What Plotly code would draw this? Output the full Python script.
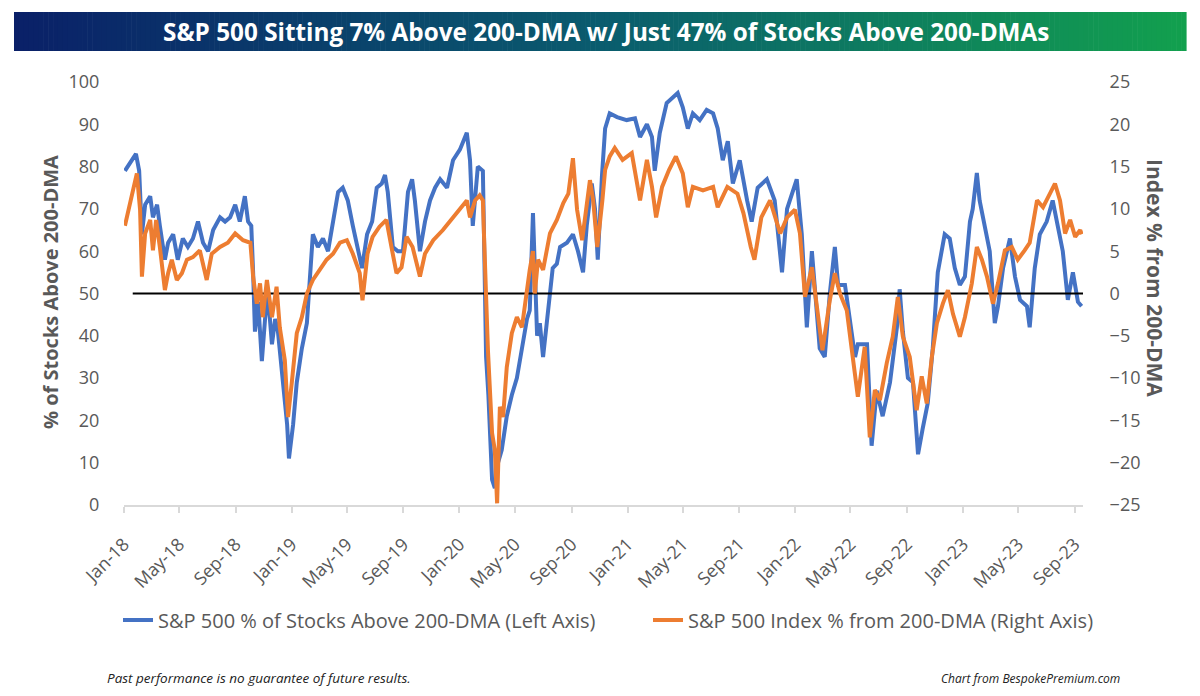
import plotly.graph_objects as go

# ---------------- data ----------------
breadth_dates = [
"2018-01-03","2018-01-14","2018-01-27","2018-02-03","2018-02-09","2018-02-16","2018-02-27","2018-03-05","2018-03-14","2018-03-20",
"2018-03-31","2018-04-07","2018-04-18","2018-04-28","2018-05-09","2018-05-20","2018-05-31","2018-06-11","2018-06-22","2018-07-03",
"2018-07-14","2018-07-29","2018-08-09","2018-08-20","2018-08-31","2018-09-10","2018-09-21","2018-09-28","2018-10-05","2018-10-09",
"2018-10-13","2018-10-20","2018-10-28","2018-11-04","2018-11-10","2018-11-19","2018-11-26","2018-12-02","2018-12-13","2018-12-22",
"2018-12-26","2019-01-04","2019-01-12","2019-01-23","2019-02-03","2019-02-10","2019-02-16","2019-02-27","2019-03-10","2019-03-21",
"2019-04-01","2019-04-12","2019-04-22","2019-05-03","2019-05-14","2019-05-25","2019-06-03","2019-06-14","2019-06-25","2019-07-05",
"2019-07-16","2019-07-23","2019-07-29","2019-08-09","2019-08-20","2019-08-31","2019-09-11","2019-09-20","2019-09-26","2019-10-07",
"2019-10-18","2019-10-29","2019-11-09","2019-11-20","2019-12-05","2019-12-18","2020-01-02","2020-01-17","2020-01-24","2020-01-30",
"2020-02-10","2020-02-21","2020-02-25","2020-02-28","2020-03-04","2020-03-12","2020-03-18","2020-03-25","2020-04-02","2020-04-13",
"2020-04-24","2020-05-05","2020-05-16","2020-05-27","2020-06-02","2020-06-09","2020-06-18","2020-06-24","2020-07-01","2020-07-12",
"2020-07-22","2020-07-31","2020-08-07","2020-08-22","2020-09-04","2020-09-15","2020-09-26","2020-10-04","2020-10-15","2020-10-22",
"2020-10-28","2020-11-06","2020-11-13","2020-11-23","2020-12-09","2020-12-30","2021-01-17","2021-01-28","2021-02-12","2021-02-23",
"2021-03-01","2021-03-12","2021-03-27","2021-04-20","2021-05-01","2021-05-12","2021-05-23","2021-06-07","2021-06-22","2021-07-06",
"2021-07-16","2021-07-27","2021-08-07","2021-08-18","2021-09-02","2021-09-18","2021-09-28","2021-10-11","2021-10-31","2021-11-17",
"2021-12-03","2021-12-14","2021-12-31","2022-01-04","2022-01-15","2022-01-26","2022-02-06","2022-02-17","2022-02-23","2022-03-06",
"2022-03-17","2022-03-28","2022-04-04","2022-04-19","2022-04-30","2022-05-11","2022-05-17","2022-06-06","2022-06-16","2022-06-27",
"2022-07-10","2022-07-26","2022-08-10","2022-08-16","2022-08-23","2022-09-03","2022-09-14","2022-09-25","2022-10-05","2022-10-16",
"2022-10-27","2022-11-07","2022-11-22","2022-12-03","2022-12-14","2022-12-25","2023-01-05","2023-01-16","2023-01-22","2023-01-31",
"2023-02-06","2023-02-17","2023-02-28","2023-03-11","2023-03-18","2023-03-29","2023-04-13","2023-04-24","2023-05-05","2023-05-20",
"2023-05-26","2023-06-06","2023-06-17","2023-07-02","2023-07-15","2023-07-26","2023-08-06","2023-08-17","2023-08-28","2023-09-08",
"2023-09-16"]
breadth_values = [
79,81,83,79,64,71,73,68,71,66,
58,62,64,58,63,61,63,67,62,60,
65,68,67,68,71,67,73,67,66,55,
41,48,34,44,50,38,44,41,29,19,
11,19,29,37,43,54,64,61,63,60,
67,74,75,72,66,61,56,64,67,75,
76,78,74,61,60,60,74,77,72,60,
67,72,75,77,75,81.5,84,88,81.5,66,
80,79,55,35,26,6,4,10,13,21,
26,30,37,44,46,69,40,43,35,45,
56,57,61,62,64,60,55,66,76,70,
58,77.5,89,92.6,91.7,91,91.4,87,90,87,
79,88,95,97.4,94,89,92.6,91,93.4,92.6,
89,81.5,86,76,81.5,72,67,75,77,72,
55,70,76,77,64,42,60,46,37,35,
50,61,52,52,44,35,38,38,14,27,
21,29,42,51,41,30,29,12,18,24,
37,55,64,63,56,52,54,67,70,78.5,
72,66,60,43,47,56,63,54,48.5,47,
42,56,64,67,72,66,60,48.5,55,48,
47]

index_dates = [
"2018-01-03","2018-01-14","2018-01-25","2018-01-29","2018-02-05","2018-02-09","2018-02-16","2018-02-27","2018-03-05","2018-03-12",
"2018-03-20","2018-03-31","2018-04-07","2018-04-15","2018-04-26","2018-05-07","2018-05-18","2018-05-31","2018-06-15","2018-06-30",
"2018-07-11","2018-07-29","2018-08-15","2018-08-31","2018-09-17","2018-10-03","2018-10-09","2018-10-17","2018-10-24","2018-10-30",
"2018-11-08","2018-11-19","2018-11-29","2018-12-06","2018-12-17","2018-12-24","2019-01-01","2019-01-12","2019-01-23","2019-02-03",
"2019-02-16","2019-03-03","2019-03-18","2019-04-01","2019-04-16","2019-05-01","2019-05-14","2019-05-29","2019-06-04","2019-06-15",
"2019-06-26","2019-07-11","2019-07-26","2019-08-06","2019-08-17","2019-08-28","2019-09-08","2019-09-21","2019-10-07","2019-10-18",
"2019-11-05","2019-11-26","2019-12-18","2020-01-07","2020-01-17","2020-01-24","2020-02-04","2020-02-14","2020-02-21","2020-02-24",
"2020-02-26","2020-02-28","2020-03-03","2020-03-12","2020-03-18","2020-03-23","2020-03-29","2020-04-05","2020-04-13","2020-04-24",
"2020-05-05","2020-05-16","2020-05-27","2020-06-02","2020-06-09","2020-06-13","2020-06-20","2020-07-01","2020-07-16","2020-07-31",
"2020-08-14","2020-08-25","2020-09-04","2020-09-13","2020-09-24","2020-10-04","2020-10-11","2020-10-18","2020-10-27","2020-11-07",
"2020-11-13","2020-11-23","2020-12-04","2020-12-21","2021-01-10","2021-01-28","2021-02-12","2021-02-23","2021-03-04","2021-03-17",
"2021-04-01","2021-04-16","2021-05-01","2021-05-12","2021-05-23","2021-06-14","2021-07-06","2021-07-16","2021-08-06","2021-08-28",
"2021-09-10","2021-09-26","2021-10-04","2021-10-19","2021-11-07","2021-11-29","2021-12-14","2021-12-31","2022-01-11","2022-01-22",
"2022-02-06","2022-02-17","2022-03-01","2022-03-17","2022-03-28","2022-04-08","2022-04-23","2022-05-04","2022-05-17","2022-06-01",
"2022-06-12","2022-06-23","2022-07-04","2022-07-19","2022-08-01","2022-08-12","2022-08-23","2022-09-07","2022-09-22","2022-10-03",
"2022-10-14","2022-10-25","2022-11-05","2022-11-18","2022-11-29","2022-12-10","2022-12-25","2023-01-05","2023-01-20","2023-01-31",
"2023-02-11","2023-02-22","2023-03-07","2023-03-18","2023-04-02","2023-04-17","2023-04-30","2023-05-15","2023-05-26","2023-06-11",
"2023-06-24","2023-07-09","2023-07-20","2023-07-31","2023-08-11","2023-08-22","2023-09-02","2023-09-13","2023-09-16"]
index_values = [
8,10.7,13.4,14.2,9.9,2,7.1,8.7,5.1,8.7,
5.5,0.4,2.4,4,1.6,2.4,4,4.3,5.1,1.6,
4.7,5.5,6,7.1,6.3,6,2,-1.2,1.2,-2.8,
1.6,-2.8,0.8,-4,-7.9,-14.6,-10.6,-4.7,-2.8,0,
1.6,2.8,4,4.7,6,6.3,4.7,2.4,-0.8,4.7,
6.7,7.9,8.7,5.5,2.4,3.1,6.7,5.5,2,4.7,
6.3,7.5,9,10.2,11,9,11,11.6,11,6,
2,-3,-6.7,-16.5,-18.5,-24.8,-13.4,-14.6,-8.7,-4.7,
-2.8,-4,0.8,2.8,5,0,4,2.8,7.1,8.7,
10.7,11.8,16,9.9,6.3,11,13.4,11,5.5,11,
14.6,16.2,17.2,15.8,16.6,11,15.8,12.6,9,12.6,
14.6,16.2,14.2,10.2,12.6,12.2,12.6,10.2,12.6,11.8,
9.5,5.5,4,9,11,7.1,9,9.9,7.1,-0.4,
3.1,-1.6,-6.7,-0.8,2.4,0,-2,-6.7,-12.2,-6.3,
-17,-11.4,-12.6,-8.2,-5.1,-0.4,-5.1,-7.5,-13.8,-9.8,
-13,-7.5,-3.5,-1.2,0.4,-2.4,-5.1,-2.8,1.2,5.5,
4,2,-1.2,1.2,5.1,5.5,4,5.1,6,11,
10.2,11.8,13,11,7.1,8.7,6.7,7.5,7]

ref_dates = ["2018-01-20", "2023-09-25"]
ref_level = [50, 50]

series_names = ["S&P 500 % of Stocks Above 200-DMA (Left Axis)",
                "S&P 500 Index % from 200-DMA (Right Axis)"]
title_text = "S&P 500 Sitting 7% Above 200-DMA w/ Just 47% of Stocks Above 200-DMAs"

# ---------------- layout geometry ----------------
W, H = 1200, 696
L, R, T, B = 124, 1083, 82, 505   # plot-area pixel box


def px(x):
    return (x - L) / (R - L)


def py(y):
    return (B - y) / (B - T)


BLUE = "#4472C4"
ORANGE = "#ED7D31"
GRAY = "#595959"
FONT = "Open Sans"

fig = go.Figure()
fig.add_trace(go.Scatter(x=breadth_dates, y=breadth_values, name=series_names[0],
                         mode="lines", line=dict(color=BLUE, width=4), yaxis="y",
                         legend="legend"))
fig.add_trace(go.Scatter(x=index_dates, y=index_values, name=series_names[1],
                         mode="lines", line=dict(color=ORANGE, width=4), yaxis="y2",
                         legend="legend2"))
fig.add_trace(go.Scatter(x=ref_dates, y=ref_level, mode="lines", showlegend=False,
                         line=dict(color="black", width=2), yaxis="y", hoverinfo="skip",
                         cliponaxis=False))

# gradient banner built from thin rectangles
shapes = []
bx0, bx1, by0, by1 = 14, 1186, 12, 51
stops = [(0.0, (10, 32, 104)), (0.5, (10, 92, 110)), (1.0, (18, 160, 78))]


def col(t):
    for (t0, c0), (t1, c1) in zip(stops[:-1], stops[1:]):
        if t <= t1:
            f = (t - t0) / (t1 - t0)
            return "rgb(%d,%d,%d)" % tuple(round(a + (b - a) * f) for a, b in zip(c0, c1))
    return "rgb(%d,%d,%d)" % stops[-1][1]


N = 240
step = (bx1 - bx0) / N
for i in range(N):
    xa = bx0 + i * step
    shapes.append(dict(type="rect", xref="paper", yref="paper", layer="below",
                       x0=px(xa), x1=px(xa + step + 0.6), y0=py(by1), y1=py(by0),
                       fillcolor=col((i + 0.5) / N), line=dict(width=0)))

annotations = [
    dict(text="<b>" + title_text.replace("&", "&amp;") + "</b>", xref="paper", yref="paper",
         x=px(606), y=py(31.5), showarrow=False, xanchor="center", yanchor="middle",
         font=dict(family=FONT, size=24.3, color="white")),
    dict(text="<b>% of Stocks Above 200-DMA</b>", xref="paper", yref="paper",
         x=px(50), y=py(292), textangle=-90, showarrow=False,
         xanchor="center", yanchor="middle", font=dict(family=FONT, size=20, color=GRAY)),
    dict(text="<b>Index % from 200-DMA</b>", xref="paper", yref="paper",
         x=px(1155), y=py(278), textangle=90, showarrow=False,
         xanchor="center", yanchor="middle", font=dict(family=FONT, size=21, color=GRAY)),
    dict(text="<i>Past performance is no guarantee of future results.</i>", xref="paper", yref="paper",
         x=px(105), y=py(678), showarrow=False, xanchor="left", yanchor="middle",
         font=dict(family=FONT, size=13.5, color="#222222")),
    dict(text="<i>Chart from BespokePremium.com</i>", xref="paper", yref="paper",
         x=px(1122), y=py(678), showarrow=False, xanchor="right", yanchor="middle",
         font=dict(family=FONT, size=12, color="#222222")),
]

legend_style = dict(orientation="h", xanchor="left", yanchor="middle", y=py(620),
                    font=dict(family=FONT, size=20, color=GRAY), bgcolor="rgba(0,0,0,0)",
                    itemwidth=30)

fig.update_layout(
    width=W, height=H, autosize=False, template="none",
    paper_bgcolor="white", plot_bgcolor="white",
    margin=dict(l=L, r=W - R, t=T, b=H - B, pad=0),
    font=dict(family=FONT, size=17, color=GRAY),
    showlegend=True,
    legend=dict(x=px(118), **legend_style),
    legend2=dict(x=px(648), **legend_style),
    xaxis=dict(type="date", range=["2018-01-01", "2023-09-19"], tick0="2018-01-01", dtick="M4",
               tickformat="%b-%y", tickangle=-45, showgrid=False, zeroline=False,
               showline=True, linecolor="#D9D9D9", linewidth=1.5,
               ticks="outside", ticklen=6, tickcolor="#D9D9D9", tickwidth=1.5,
               ticklabelstandoff=14,
               tickfont=dict(family=FONT, size=18, color=GRAY), automargin=False),
    yaxis=dict(range=[0, 100], dtick=10, showgrid=False, zeroline=False, showline=False,
               ticks="outside", ticklen=20, tickcolor="rgba(0,0,0,0)",
               tickfont=dict(family=FONT, size=18, color=GRAY), automargin=False),
    yaxis2=dict(range=[-25, 25], dtick=5, overlaying="y", side="right", showgrid=False,
                zeroline=False, showline=False, ticks="outside", ticklen=22,
                tickcolor="rgba(0,0,0,0)",
                tickfont=dict(family=FONT, size=18, color=GRAY), automargin=False),
    shapes=shapes,
    annotations=annotations,
)

fig.write_html("out.html")
